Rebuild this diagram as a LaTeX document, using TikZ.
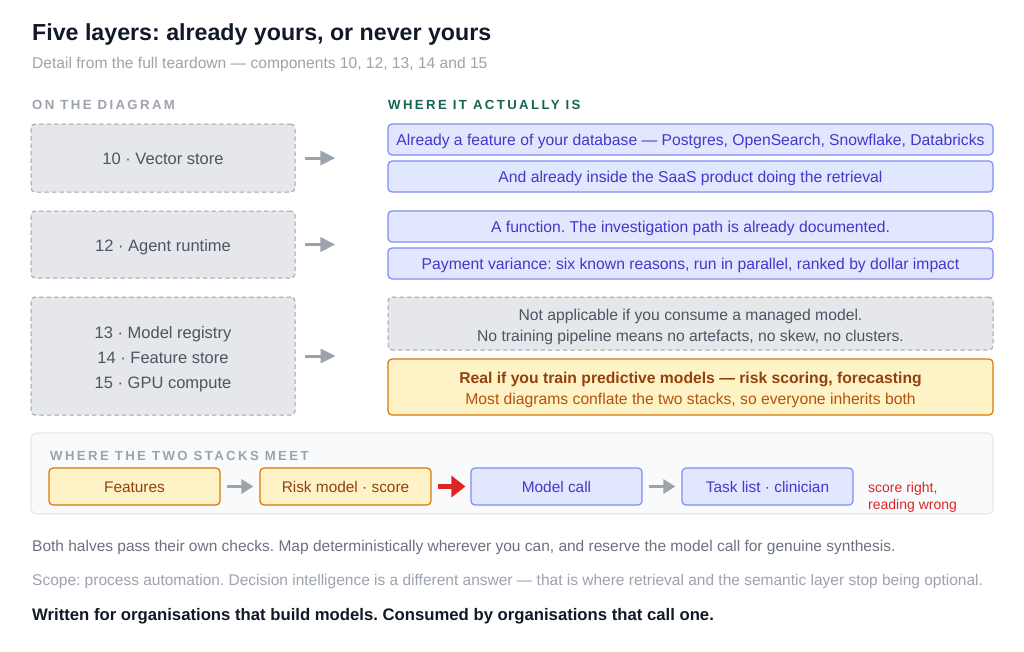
\documentclass[tikz,border=0pt]{standalone}
\usepackage{fontspec}
\setmainfont{Liberation Sans}
\usepackage{tikz}
\usetikzlibrary{arrows.meta, positioning, calc}
\usepackage{xcolor}
\definecolor{ink}{RGB}{17, 24, 39}
\definecolor{muted}{RGB}{156, 163, 175}
\definecolor{slate}{RGB}{75, 85, 99}
\definecolor{footgray}{RGB}{107, 114, 128}
\definecolor{grayfill}{RGB}{229, 231, 235}
\definecolor{teal}{RGB}{22, 101, 84}
\definecolor{indigofill}{RGB}{224, 231, 255}
\definecolor{indigoline}{RGB}{129, 140, 248}
\definecolor{indigotext}{RGB}{67, 56, 202}
\definecolor{amberfill}{RGB}{254, 243, 199}
\definecolor{amberline}{RGB}{217, 119, 6}
\definecolor{amberdark}{RGB}{146, 64, 14}
\definecolor{ambertext}{RGB}{180, 83, 9}
\definecolor{panelfill}{RGB}{249, 250, 251}
\definecolor{alert}{RGB}{220, 38, 38}
\newcommand{\capsfont}{\fontsize{13.2}{16}\selectfont\bfseries\addfontfeature{LetterSpace=18}}
\tikzset{
    layer/.style={rectangle, rounded corners=4pt, minimum width=264pt, align=center, draw=muted, dash pattern=on 4.5pt off 3pt, line width=1pt, fill=grayfill, text=slate, font=\fontsize{16.5}{25}\selectfont, text height=20.2pt, text depth=6.8pt},
    where/.style={rectangle, rounded corners=4pt, minimum width=605pt, minimum height=31pt, align=center, draw=indigoline, line width=1.2pt, fill=indigofill, text=indigotext, font=\fontsize{15.7}{21}\selectfont, text height=17.5pt, text depth=5.1pt},
    moot/.style={where, draw=muted, dash pattern=on 4.5pt off 3pt, line width=1pt, fill=grayfill, text=slate},
    real/.style={where, draw=amberline, fill=amberfill, text=ambertext},
    stage/.style={rectangle, rounded corners=4pt, minimum width=171pt, minimum height=37pt, align=center, line width=1.2pt, font=\fontsize{15.4}{18}\selectfont, text height=15.8pt, text depth=3.7pt},
    train/.style={stage, draw=amberline, fill=amberfill, text=amberdark},
    infer/.style={stage, draw=indigoline, fill=indigofill, text=indigotext},
    caps/.style={anchor=base west, text=muted, font=\capsfont, inner sep=0pt},
    foot/.style={anchor=base west, inner sep=0pt, font=\fontsize{15.5}{18}\selectfont},
    arrow/.style={line width=3pt, -{Triangle[length=15pt,width=14pt]}, muted},
    smallarrow/.style={line width=3pt, -{Triangle[length=12pt,width=14pt]}, muted},
    redarrow/.style={line width=4.5pt, -{Triangle[length=14pt,width=21pt]}, alert}
}
\frenchspacing
\begin{document}
\begin{tikzpicture}[x=1pt, y=-1pt]
    \useasboundingbox[fill=white] (0,0) rectangle (1024,651);

    % Heading
    \node[anchor=base west, inner sep=0pt, text=ink, font=\fontsize{23.2}{28}\selectfont\bfseries] (title) at (32,40) {Five layers: already yours, or never yours};
    \node[anchor=base west, inner sep=0pt, text=muted, font=\fontsize{15.6}{18}\selectfont] (subtitle) at (32,68.3) {Detail from the full teardown --- components 10, 12, 13, 14 and 15};
    \node[caps] (ondiagram) at (32,109) {ON THE DIAGRAM};
    \node[caps, text=teal] (actually) at (388,109) {WHERE IT ACTUALLY IS};

    % On the diagram
    \node[layer, minimum height=68pt] (vector) at (163,158) {10 · Vector store};
    \node[layer, minimum height=67pt] (runtime) at (163,244.5) {12 · Agent runtime};
    \node[layer, minimum height=118pt, text height=72.2pt] (mlops) at (163,356) {13 · Model registry\\14 · Feature store\\15 · GPU compute};

    % Where it actually is
    \node[where] (database) at (690.5,139.5) {Already a feature of your database --- Postgres, OpenSearch, Snowflake, Databricks};
    \node[where] (saas) at (690.5,176.5) {And already inside the SaaS product doing the retrieval};
    \node[where] (function) at (690.5,226.5) {A function. The investigation path is already documented.};
    \node[where] (variance) at (690.5,263.5) {Payment variance: six known reasons, run in parallel, ranked by dollar impact};
    \node[moot, minimum height=53pt, text height=40.9pt] (managed) at (690.5,323.5) {Not applicable if you consume a managed model.\\No training pipeline means no artefacts, no skew, no clusters.};
    \node[real, minimum height=56pt, text height=40.9pt] (predictive) at (690.5,387) {\textcolor{amberdark}{\bfseries Real if you train predictive models --- risk scoring, forecasting}\\Most diagrams conflate the two stacks, so everyone inherits both};

    % Arrows
    \draw[arrow, shorten <=9pt, shorten >=52pt] (vector.east) -- (vector.east -| database.west);
    \draw[arrow, shorten <=9pt, shorten >=52pt] (runtime.east) -- (runtime.east -| function.west);
    \draw[arrow, shorten <=9pt, shorten >=52pt] (mlops.east) -- (mlops.east -| managed.west);

    % Where the two stacks meet
    \node[rectangle, rounded corners=6pt, draw=grayfill, line width=1.2pt, fill=panelfill, minimum width=962pt, minimum height=81pt] (panel) at (512,473.5) {};
    \node[caps] (meet) at (50,460) {WHERE THE TWO STACKS MEET};
    \node[train] (features) at (134.5,486.5) {Features};
    \node[train] (risk) at (345.5,486.5) {Risk model · score};
    \node[infer] (modelcall) at (556.5,486.5) {Model call};
    \node[infer] (tasklist) at (767.5,486.5) {Task list · clinician};
    \node[anchor=base west, inner sep=0pt, align=left, text=alert, font=\fontsize{14}{17}\selectfont] (wrong) at (868,509.5) {score right,\\reading wrong};
    \draw[smallarrow, shorten <=6pt, shorten >=6pt] (features) -- (risk);
    \draw[redarrow, shorten <=6pt, shorten >=5pt] (risk) -- (modelcall);
    \draw[smallarrow, shorten <=6pt, shorten >=6pt] (modelcall) -- (tasklist);

    % Footer
    \node[foot, text=footgray] (checks) at (32,551.7) {Both halves pass their own checks. Map deterministically wherever you can, and reserve the model call for genuine synthesis.};
    \node[foot, text=muted] (scope) at (32,585.7) {Scope: process automation. Decision intelligence is a different answer --- that is where retrieval and the semantic layer stop being optional.};
    \node[foot, text=ink, font=\fontsize{16.7}{18}\selectfont\bfseries] (audience) at (32,620) {Written for organisations that build models. Consumed by organisations that call one.};
\end{tikzpicture}
\end{document}
